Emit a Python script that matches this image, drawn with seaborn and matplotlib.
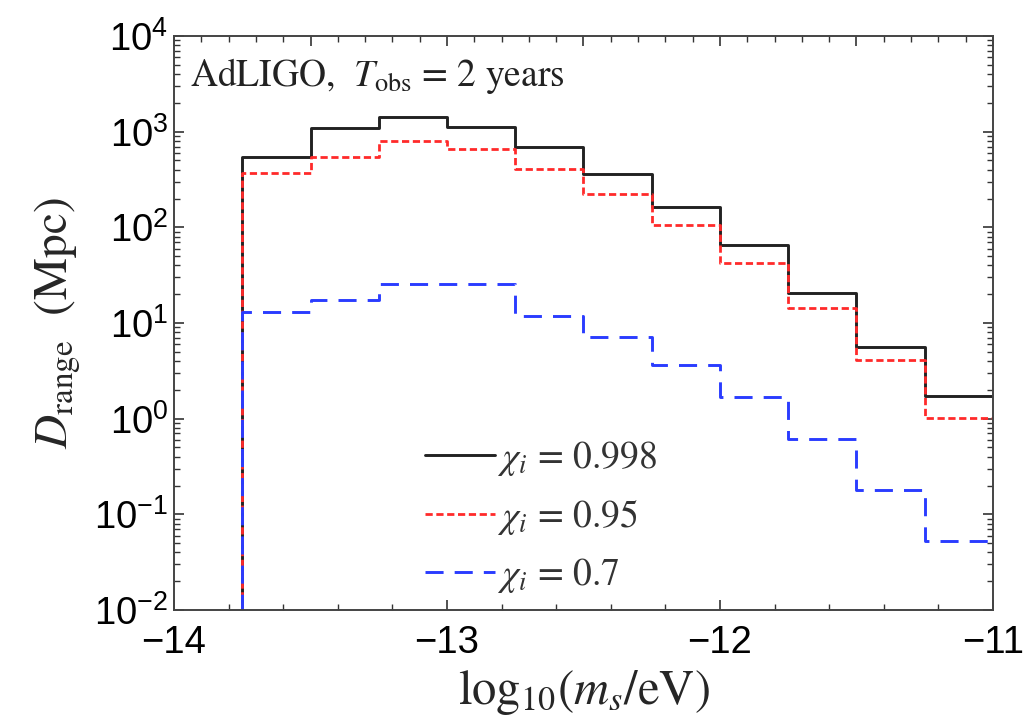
import numpy as np
import pandas as pd
import matplotlib
matplotlib.use("Agg")
import matplotlib.pyplot as plt
import matplotlib.ticker as mticker
import seaborn as sns

# ---- data ----
bin_edges = [-13.75, -13.5, -13.25, -13.0, -12.75, -12.5, -12.25, -12.0, -11.75, -11.5, -11.25, -11.0]
d_0998 = [550, 1100, 1440, 1130, 700, 360, 164, 65, 20.4, 5.6, 1.72]
d_095 = [369, 550, 800, 656, 405, 223, 106, 42, 14.3, 4.1, 1.02]
d_07 = [12.9, 17.5, 25.6, 25.6, 11.9, 7.2, 3.66, 1.7, 0.61, 0.178, 0.053]
labels = [r"$\chi_i\,=\,0.998$", r"$\chi_i\,=\,0.95$", r"$\chi_i\,=\,0.7$"]
floor_value = 1e-6  # histogram drops below the axis at the first edge

sns.set_theme(style="ticks")
plt.rcParams["mathtext.fontset"] = "stix"
plt.rcParams["font.family"] = ["Liberation Sans", "DejaVu Sans"]

fig = plt.figure(figsize=(10.31, 7.28), dpi=100)
ax = fig.add_axes([0.1688, 0.1621, 0.9631 - 0.1688, 0.9505 - 0.1621])


def step_frame(values):
    xs = [bin_edges[0]] + list(bin_edges)
    ys = [floor_value] + list(values) + [values[-1]]
    return pd.DataFrame({"x": xs, "y": ys})


styles = [
    dict(color="#222222", lw=2.1, dashes=None),
    dict(color="#ff2a2a", lw=2.0, dashes=(2.6, 1.3)),
    dict(color="#2a3cff", lw=2.1, dashes=(6.2, 3.8)),
]
for vals, lab, st in zip([d_0998, d_095, d_07], labels, styles):
    df = step_frame(vals)
    kw = dict(data=df, x="x", y="y", ax=ax, estimator=None, sort=False,
              color=st["color"], linewidth=st["lw"], label=lab,
              drawstyle="steps-post")
    line = sns.lineplot(**kw).lines[-1]
    if st["dashes"] is not None:
        line.set_dashes(st["dashes"])

ax.set_yscale("log")
ax.set_xlim(-14, -11)
ax.set_ylim(1e-2, 1e4)

# ticks
ax.xaxis.set_major_locator(mticker.MultipleLocator(1))
ax.xaxis.set_minor_locator(mticker.MultipleLocator(0.2))
ax.xaxis.set_major_formatter(mticker.FuncFormatter(lambda v, p: f"\u2212{abs(int(round(v)))}" if v < 0 else f"{int(round(v))}"))
ax.yaxis.set_major_locator(mticker.LogLocator(base=10, numticks=10))
ax.yaxis.set_minor_locator(mticker.LogLocator(base=10, subs=np.arange(2, 10), numticks=20))
ax.yaxis.set_minor_formatter(mticker.NullFormatter())
ax.tick_params(axis="both", which="major", direction="in", length=7, width=1.2,
               labelsize=27.5, right=True, colors="#333333", labelcolor="black")
ax.tick_params(axis="x", which="major", pad=11)
ax.tick_params(axis="y", which="major", pad=4)
ax.tick_params(axis="both", which="minor", direction="in", length=4, width=1.0,
               right=True, colors="#333333")
ax.tick_params(axis="x", which="both", top=False)

top = ax.secondary_xaxis("top")
top.xaxis.set_major_locator(mticker.MultipleLocator(0.5))
top.xaxis.set_minor_locator(mticker.MultipleLocator(0.1))
top.tick_params(which="major", direction="in", length=7, width=1.2, labeltop=False, colors="#333333")
top.tick_params(which="minor", direction="in", length=4, width=1.0, colors="#333333")
top.spines["top"].set_visible(False)

for s in ax.spines.values():
    s.set_color("#444444")
    s.set_linewidth(1.4)

ax.set_xlabel(r"log$_{10}$($m_s$/eV)", fontsize=35, family="STIXGeneral", labelpad=5)
ax.set_ylabel(r"$D_{\mathrm{range}}$  (Mpc)", fontsize=34, family="STIXGeneral", labelpad=8)

ax.text(0.02, 0.93, r"AdLIGO,  $T_{\mathrm{obs}}$ = 2 years", transform=ax.transAxes,
        fontsize=27, family="STIXGeneral", color="#222222", va="center", ha="left")

leg = ax.legend(loc="lower left", bbox_to_anchor=(0.275, -0.019), frameon=False,
                prop={"family": "STIXGeneral", "size": 27}, handlelength=1.85,
                handletextpad=0.05, labelspacing=0.5, borderaxespad=0.3)
for t in leg.get_texts():
    t.set_color("#333333")

fig.savefig("out.png", dpi=100, facecolor="white")
